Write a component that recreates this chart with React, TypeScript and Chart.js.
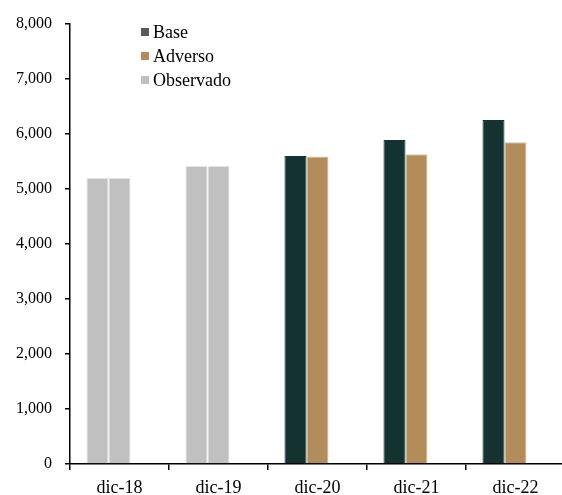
import React, { useEffect, useRef } from "react";
import { Chart, registerables } from "chart.js";

Chart.register(...registerables);

const categories = ["dic-18", "dic-19", "dic-20", "dic-21", "dic-22"];
const baseValues = [5200, 5420, 5600, 5890, 6255];
const adversoValues = [5200, 5420, 5590, 5630, 5850];
const observadoValues: (number | null)[] = [null, null, null, null, null];
const observedFlags = [true, true, false, false, false];
const yTicks = [0, 1000, 2000, 3000, 4000, 5000, 6000, 7000, 8000];

const GREEN = "#143330";
const TAN = "#B38C5C";
const GRAY = "#C0C0C0";
const FONT = "'Liberation Serif', 'Times New Roman', serif";

const legendItems = [
  { label: "Base", color: "#595959" },
  { label: "Adverso", color: TAN },
  { label: "Observado", color: GRAY },
];

const legendPlugin = {
  id: "customLegend",
  afterDraw(chart: any) {
    const ctx = chart.ctx;
    ctx.save();
    ctx.font = `18px ${FONT}`;
    ctx.textBaseline = "middle";
    ctx.textAlign = "left";
    legendItems.forEach((it, i) => {
      const cy = 32 + i * 24;
      ctx.fillStyle = it.color;
      ctx.fillRect(141, cy - 4, 8, 8);
      ctx.fillStyle = "#000";
      ctx.fillText(it.label, 153, cy + 1);
    });
    ctx.restore();
  },
};

export default function App() {
  const ref = useRef<HTMLCanvasElement>(null);
  useEffect(() => {
    if (!ref.current) return;
    const chart = new Chart(ref.current, {
      type: "bar",
      data: {
        labels: categories,
        datasets: [
          {
            label: "Base",
            data: baseValues,
            backgroundColor: observedFlags.map((o) => (o ? GRAY : GREEN)),
            borderColor: observedFlags.map((o) => (o ? "#e4e4e4" : GREEN)),
            borderWidth: 1,
            borderSkipped: "bottom",
          },
          {
            label: "Adverso",
            data: adversoValues,
            backgroundColor: observedFlags.map((o) => (o ? GRAY : TAN)),
            borderColor: observedFlags.map((o) => (o ? "#e4e4e4" : "#d8c4a6")),
            borderWidth: 1,
            borderSkipped: "bottom",
          },
          {
            label: "Observado",
            data: observadoValues,
            backgroundColor: GRAY,
          },
        ],
      },
      options: {
        responsive: false,
        animation: false,
        datasets: { bar: { barPercentage: 1, categoryPercentage: 0.667 } },
        layout: { padding: { top: 24, left: 0, right: 0, bottom: 0 } },
        plugins: { legend: { display: false }, tooltip: { enabled: false } },
        scales: {
          x: {
            offset: true,
            grid: {
              offset: true,
              drawOnChartArea: false,
              drawTicks: true,
              tickLength: 6,
              color: "#000",
              lineWidth: 1.5,
            },
            border: { color: "#000", width: 1.5 },
            ticks: {
              color: "#000",
              font: { family: FONT, size: 18 },
              padding: 7,
              maxRotation: 0,
            },
            afterFit: (s: any) => {
              s.height = 31;
            },
          },
          y: {
            min: 0,
            max: 8000,
            afterBuildTicks: (s: any) => {
              s.ticks = yTicks.map((v) => ({ value: v }));
            },
            grid: {
              drawOnChartArea: false,
              drawTicks: true,
              tickLength: 5,
              color: "#000",
              lineWidth: 1.5,
            },
            border: { color: "#000", width: 1.5 },
            ticks: {
              color: "#000",
              font: { family: FONT, size: 16 },
              padding: 13,
              callback: (v: any) => Number(v).toLocaleString("en-US"),
            },
            afterFit: (s: any) => {
              s.width = 70;
            },
          },
        },
      },
      plugins: [legendPlugin],
    });
    return () => chart.destroy();
  }, []);
  return (
    <div
      style={{
        position: "fixed",
        left: 0,
        top: 0,
        width: 562,
        height: 495,
        overflow: "hidden",
        background: "#fff",
      }}
    >
      <canvas ref={ref} width={565} height={495} style={{ display: "block" }} />
    </div>
  );
}
